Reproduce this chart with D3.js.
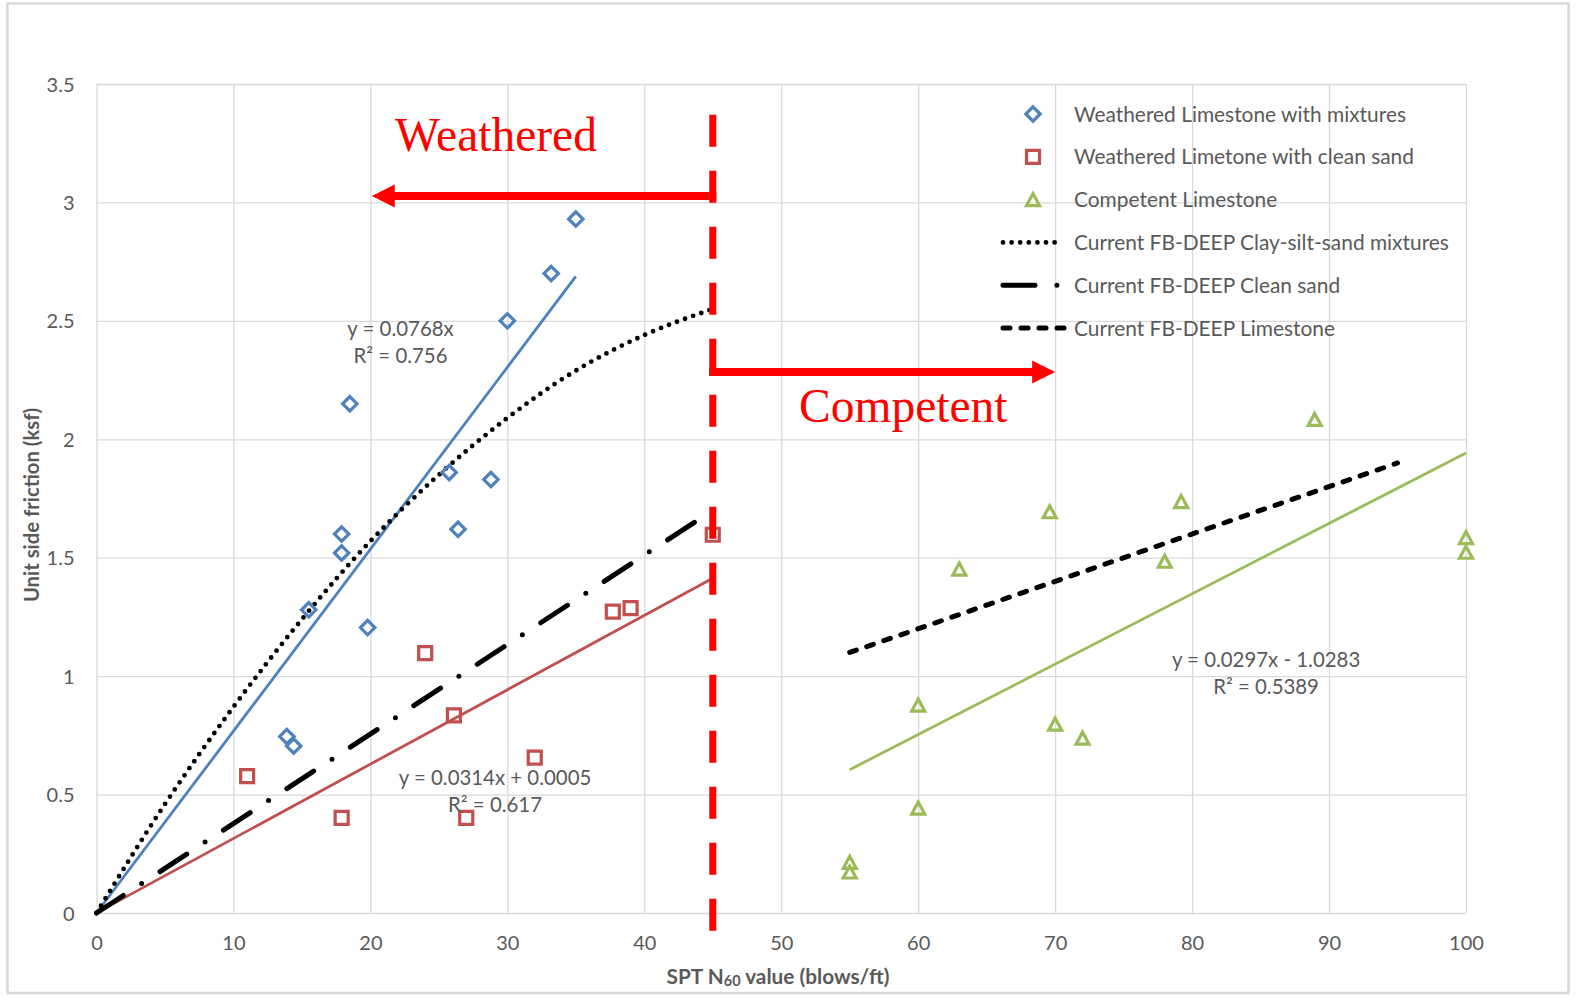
<!DOCTYPE html>
<html><head><meta charset="utf-8">
<script src="https://cdn.jsdelivr.net/npm/d3@7"></script>
<style>body{margin:0;background:#fff} svg{display:block}</style>
</head><body>
<svg id="chart" width="1576" height="1002"></svg>
<script>
// ---------------- data ----------------
const xTicks = [0, 10, 20, 30, 40, 50, 60, 70, 80, 90, 100];
const yTicks = [0, 0.5, 1, 1.5, 2, 2.5, 3, 3.5];
const yTickLabels = ["0", "0.5", "1", "1.5", "2", "2.5", "3", "3.5"];

const mixturesX = [35, 33.2, 30, 18.5, 25.75, 28.8, 26.4, 17.9, 17.9, 15.5, 19.8, 13.9, 14.4];
const mixturesY = [2.93, 2.7, 2.5, 2.15, 1.86, 1.83, 1.62, 1.6, 1.52, 1.28, 1.205, 0.745, 0.705];

const cleanSandX = [11, 17.9, 24, 26.1, 27, 32, 37.7, 39, 45];
const cleanSandY = [0.578, 0.402, 1.097, 0.834, 0.402, 0.656, 1.272, 1.287, 1.597];

const competentX = [55, 55, 60, 60, 63, 69.6, 70, 72, 78, 79.2, 88.95, 100, 100];
const competentY = [0.214, 0.173, 0.878, 0.443, 1.452, 1.694, 0.797, 0.738, 1.485, 1.737, 2.084, 1.585, 1.523];

// trend lines (as drawn)
const trendMixturesX = [0, 35];
const trendMixturesY = [0, 2.688];
const trendCleanX = [0, 45];
const trendCleanY = [0.0005, 1.4135];
const trendCompetentX = [55, 100];
const trendCompetentY = [0.605, 1.942];

// Current FB-DEEP curves
const fbMixturesX = [0, 5, 10, 15, 20, 25, 30, 35, 40, 45];
const fbMixturesY = [0, 0.46, 0.87, 1.24, 1.57, 1.85, 2.09, 2.29, 2.44, 2.55];
const fbCleanX = [0, 45];
const fbCleanY = [0, 1.7];
const fbLimeX = [55, 95];
const fbLimeY = [1.1, 1.9];

const seriesNames = [
  "Weathered Limestone with mixtures",
  "Weathered Limetone with clean sand",
  "Competent Limestone",
  "Current FB-DEEP Clay-silt-sand mixtures",
  "Current FB-DEEP Clean sand",
  "Current FB-DEEP Limestone"
];
const eqLabels = [
  ["y = 0.0768x", "R² = 0.756"],
  ["y = 0.0314x + 0.0005", "R² = 0.617"],
  ["y = 0.0297x - 1.0283", "R² = 0.5389"]
];
const eqAnchorX = [22.2, 29.1, 85.4];
const eqAnchorY = [2.435, 0.54, 1.04];

// annotation (data units)
const dividerX = 45;
const dividerY = [3.37, -0.076];
const leftArrowY = 3.027, leftArrowTip = 20.1;
const rightArrowY = 2.284, rightArrowTip = 70.0;
const zoneLabels = ["Weathered", "Competent"];
const zoneLabelX = [21.8, 51.3];
const zoneLabelY = [3.217, 2.073];

// ---------------- drawing ----------------
const COL = {blue: "#4f81bd", red: "#c0504d", green: "#9bbb59", text: "#595959", grid: "#d9d9d9"};
const FONT = "Lato, 'Open Sans', sans-serif";
const svg = d3.select("#chart");
svg.append("rect").attr("width", 1576).attr("height", 1002).attr("fill", "#fff");
svg.append("rect").attr("x", 7.5).attr("y", 3.5).attr("width", 1561).attr("height", 989.5)
  .attr("fill", "none").attr("stroke", "#d9d9d9").attr("stroke-width", 2.5);

const x = d3.scaleLinear().domain([0, 100]).range([96.5, 1466]);
const y = d3.scaleLinear().domain([0, 3.5]).range([913, 84]);
const plotW = x(100) - x(0), plotH = y(0) - y(3.5);

// gridlines via axes
const gx = svg.append("g").attr("transform", `translate(0,${y(0)})`)
  .call(d3.axisBottom(x).tickValues(xTicks).tickSize(-plotH).tickFormat(""));
const gy = svg.append("g").attr("transform", `translate(${x(0)},0)`)
  .call(d3.axisLeft(y).tickValues(yTicks).tickSize(-plotW).tickFormat(""));
[gx, gy].forEach(g => {
  g.select(".domain").remove();
  g.selectAll("line").attr("stroke", COL.grid).attr("stroke-width", 1.3);
});

// tick labels via axes
const lx = svg.append("g").attr("transform", `translate(0,${y(0)})`)
  .call(d3.axisBottom(x).tickValues(xTicks).tickSize(0).tickFormat(d3.format("d")));
lx.select(".domain").remove();
lx.selectAll("text").attr("y", 37).attr("dy", 0).attr("fill", COL.text)
  .style("font-family", FONT).style("font-size", "20px");
const ly = svg.append("g").attr("transform", `translate(${x(0)},0)`)
  .call(d3.axisLeft(y).tickValues(yTicks).tickSize(0).tickFormat((d, i) => yTickLabels[i]));
ly.select(".domain").remove();
ly.selectAll("text").attr("x", -22).attr("dy", 7).attr("fill", COL.text)
  .style("font-family", FONT).style("font-size", "20px");

// axis titles
const xt = svg.append("text").attr("x", 778).attr("y", 984).attr("text-anchor", "middle")
  .attr("fill", COL.text).style("font-family", FONT).style("font-size", "20.8px").style("font-weight", "bold");
xt.append("tspan").text("SPT N");
xt.append("tspan").text("60").style("font-size", "14.5px").attr("dy", 2);
xt.append("tspan").text(" value (blows/ft)").attr("dy", -2);
svg.append("text").attr("transform", "translate(39,505) rotate(-90)").attr("text-anchor", "middle")
  .attr("fill", COL.text).style("font-family", FONT).style("font-size", "20.3px").style("font-weight", "bold")
  .text("Unit side friction (ksf)");

const line = d3.line().x(d => x(d[0])).y(d => y(d[1]));
const zip = (a, b) => a.map((v, i) => [v, b[i]]);

// trend lines
[[trendMixturesX, trendMixturesY, COL.blue], [trendCleanX, trendCleanY, COL.red], [trendCompetentX, trendCompetentY, COL.green]]
  .forEach(([xs, ys, c]) => svg.append("path").attr("d", line(zip(xs, ys)))
    .attr("fill", "none").attr("stroke", c).attr("stroke-width", 2.8));

// FB-DEEP lines
const fbStyles = [
  {w: 4.8, dash: "0 8.6"},
  {w: 5, dash: "32 21.9 0 21.9"},
  {w: 5, dash: "7 11"}
];
svg.append("path").attr("d", d3.line().x(d => x(d[0])).y(d => y(d[1])).curve(d3.curveMonotoneX)(zip(fbMixturesX, fbMixturesY)))
  .attr("fill", "none").attr("stroke", "#000").attr("stroke-width", fbStyles[0].w)
  .attr("stroke-dasharray", fbStyles[0].dash).attr("stroke-linecap", "round");
svg.append("path").attr("d", line(zip(fbCleanX, fbCleanY)))
  .attr("fill", "none").attr("stroke", "#000").attr("stroke-width", fbStyles[1].w)
  .attr("stroke-dasharray", fbStyles[1].dash).attr("stroke-linecap", "round");
svg.append("path").attr("d", line(zip(fbLimeX, fbLimeY)))
  .attr("fill", "none").attr("stroke", "#000").attr("stroke-width", fbStyles[2].w)
  .attr("stroke-dasharray", fbStyles[2].dash).attr("stroke-linecap", "round");

// markers
const diamond = r => `M0,${-r}L${r},0L0,${r}L${-r},0Z`;
const square = s => `M${-s/2},${-s/2}h${s}v${s}h${-s}Z`;
const triangle = (b, h) => `M0,${-h/2}L${b/2},${h/2}L${-b/2},${h/2}Z`;
const markerDefs = [
  {xs: mixturesX, ys: mixturesY, path: diamond(7.2), c: COL.blue},
  {xs: cleanSandX, ys: cleanSandY, path: square(13), c: COL.red},
  {xs: competentX, ys: competentY, path: triangle(13, 12), c: COL.green}
];
markerDefs.forEach(m => {
  svg.append("g").selectAll("path").data(zip(m.xs, m.ys)).join("path")
    .attr("transform", d => `translate(${x(d[0])},${y(d[1])})`)
    .attr("d", m.path).attr("fill", "none").attr("stroke", m.c).attr("stroke-width", 3.2)
    .attr("stroke-linejoin", "miter");
});

// equation labels
eqLabels.forEach((lab, i) => {
  const t = svg.append("text").attr("text-anchor", "middle").attr("fill", COL.text)
    .style("font-family", FONT).style("font-size", "20.4px");
  t.append("tspan").attr("x", x(eqAnchorX[i])).attr("y", y(eqAnchorY[i])).text(lab[0]);
  t.append("tspan").attr("x", x(eqAnchorX[i])).attr("y", y(eqAnchorY[i]) + 27).text(lab[1]);
});

// legend
const legX0 = 1001, legX1 = 1063, legMark = 1033, legText = 1074;
const legY = i => 114 + 42.8 * i;
seriesNames.forEach((name, i) => {
  const g = svg.append("g");
  if (i < 3) {
    g.append("path").attr("transform", `translate(${legMark},${legY(i)})`).attr("d", markerDefs[i].path)
      .attr("fill", "none").attr("stroke", markerDefs[i].c).attr("stroke-width", 3.2);
  } else {
    const st = fbStyles[i - 3];
    const end = i === 5 ? 1066 : (i === 4 ? 1058 : legX1);
    g.append("line").attr("x1", legX0 + 2).attr("x2", end).attr("y1", legY(i)).attr("y2", legY(i))
      .attr("stroke", "#000").attr("stroke-width", st.w).attr("stroke-dasharray", st.dash)
      .attr("stroke-linecap", "round");
  }
  g.append("text").attr("x", legText).attr("y", legY(i) + 7.5).attr("fill", COL.text)
    .style("font-family", FONT).style("font-size", "20.9px").text(name);
});

// annotation: divider and arrows
const RED = "#ff0000";
svg.append("line").attr("x1", x(dividerX)).attr("x2", x(dividerX)).attr("y1", y(dividerY[0])).attr("y2", y(dividerY[1]))
  .attr("stroke", RED).attr("stroke-width", 7).attr("stroke-dasharray", "32 24");
function arrow(yv, tipV) {
  const x0 = x(dividerX) - 3.5, xt = x(tipV), yy = y(yv);
  const dir = Math.sign(xt - x0), head = 23, hw = 11.5, sw = 4;
  const xb = xt - dir * head;
  svg.append("path").attr("fill", RED)
    .attr("d", `M${x0},${yy - sw}L${xb},${yy - sw}L${xb},${yy - hw}L${xt},${yy}L${xb},${yy + hw}L${xb},${yy + sw}L${x0},${yy + sw}Z`);
}
arrow(leftArrowY, leftArrowTip);
arrow(rightArrowY, rightArrowTip);
svg.append("line").attr("x1", x(dividerX)).attr("x2", x(dividerX)).attr("y1", y(leftArrowY) - 4).attr("y2", y(leftArrowY) + 4)
  .attr("stroke", RED).attr("stroke-width", 7);
svg.append("line").attr("x1", x(dividerX)).attr("x2", x(dividerX)).attr("y1", y(rightArrowY) - 4).attr("y2", y(rightArrowY) + 4)
  .attr("stroke", RED).attr("stroke-width", 7);

zoneLabels.forEach((t, i) => {
  svg.append("text").attr("x", x(zoneLabelX[i])).attr("y", y(zoneLabelY[i])).attr("fill", RED)
    .style("font-family", "'Liberation Serif', 'Times New Roman', serif").style("font-size", "47.5px").text(t);
});
</script>
</body></html>
